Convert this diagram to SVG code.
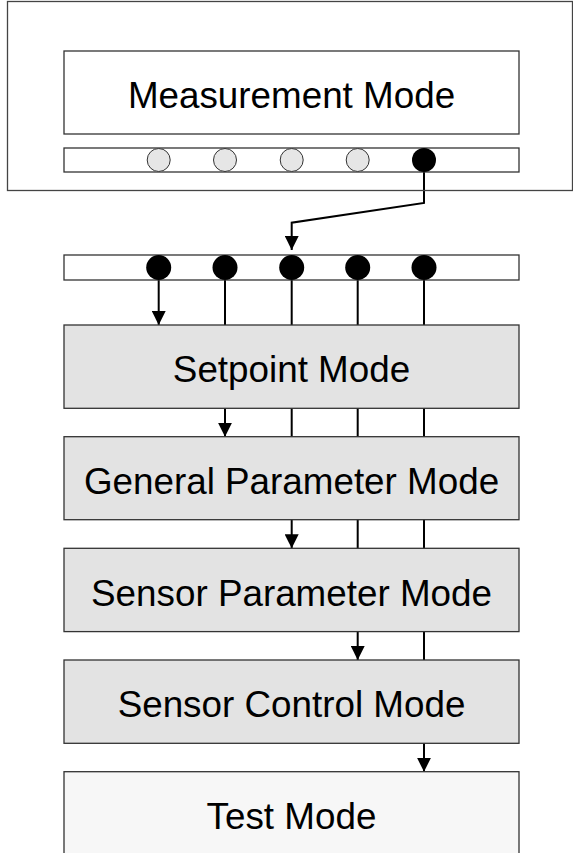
<svg xmlns="http://www.w3.org/2000/svg" width="573" height="853" viewBox="0 0 573 853">
<style>
.box{stroke:#333;stroke-width:1.3}
.mode{fill:#e3e3e3}
.lbl{font-family:"Liberation Sans",Arial,sans-serif;font-size:36.8px;fill:#000;text-anchor:middle}
.con{stroke:#000;stroke-width:2;fill:none}
.dot{fill:#000}
.gdot{fill:#e6e6e6;stroke:#333;stroke-width:1}
</style>
<defs>
<marker id="arr" markerUnits="userSpaceOnUse" markerWidth="14" markerHeight="14" viewBox="0 0 14 14" refX="14" refY="7" orient="auto">
<path d="M0,0 L14,7 L0,14 Z" fill="#000"/>
</marker>
</defs>
<g id="connectors">
<path class="con" d="M424,170 V203 L291.7,222.7 V250" stroke-width="1.4" marker-end="url(#arr)"/>
<line class="con" x1="158.7" y1="268" x2="158.7" y2="325" marker-end="url(#arr)"/>
<line class="con" x1="225" y1="268" x2="225" y2="436.7" marker-end="url(#arr)"/>
<line class="con" x1="291.7" y1="268" x2="291.7" y2="548.3" marker-end="url(#arr)"/>
<line class="con" x1="357.7" y1="268" x2="357.7" y2="660" marker-end="url(#arr)"/>
<line class="con" x1="424" y1="268" x2="424" y2="771.7" marker-end="url(#arr)"/>
</g>
<g id="measurement-frame">
<rect x="7.5" y="1.5" width="565" height="189" fill="none" stroke="#444" stroke-width="1.3"/>
</g>
<g id="measurement-mode">
<rect class="box" x="64" y="51" width="455" height="83" fill="#fff"/>
<text class="lbl" x="291.5" y="107.7">Measurement Mode</text>
</g>
<g id="measurement-bar">
<rect class="box" x="64" y="148" width="455" height="24" fill="#fff"/>
<ellipse class="gdot" cx="158.7" cy="160" rx="11.5" ry="11.5"/>
<ellipse class="gdot" cx="225" cy="160" rx="11.5" ry="11.5"/>
<ellipse class="gdot" cx="291.7" cy="160" rx="11.5" ry="11.5"/>
<ellipse class="gdot" cx="357.7" cy="160" rx="11.5" ry="11.5"/>
<ellipse class="dot" cx="424" cy="160" rx="12" ry="12"/>
</g>
<g id="selector-bar">
<rect class="box" x="64" y="255" width="455" height="25" fill="#fff"/>
<circle class="dot" cx="158.7" cy="267.5" r="12.5"/>
<circle class="dot" cx="225" cy="267.5" r="12.5"/>
<circle class="dot" cx="291.7" cy="267.5" r="12.5"/>
<circle class="dot" cx="357.7" cy="267.5" r="12.5"/>
<circle class="dot" cx="424" cy="267.5" r="12.5"/>
</g>
<g id="setpoint-mode">
<rect class="box mode" x="64" y="325" width="455" height="83.3"/>
<text class="lbl" x="291.5" y="382.3">Setpoint Mode</text>
</g>
<g id="general-parameter-mode">
<rect class="box mode" x="64" y="436.7" width="455" height="83"/>
<text class="lbl" x="291.5" y="494">General Parameter Mode</text>
</g>
<g id="sensor-parameter-mode">
<rect class="box mode" x="64" y="548.3" width="455" height="83.3"/>
<text class="lbl" x="291.5" y="605.5">Sensor Parameter Mode</text>
</g>
<g id="sensor-control-mode">
<rect class="box mode" x="64" y="660" width="455" height="83.3"/>
<text class="lbl" x="291.5" y="717">Sensor Control Mode</text>
</g>
<g id="test-mode">
<rect class="box" x="64" y="771.7" width="455" height="90" fill="#f7f7f7"/>
<text class="lbl" x="291.5" y="828.5">Test Mode</text>
</g>
</svg>
